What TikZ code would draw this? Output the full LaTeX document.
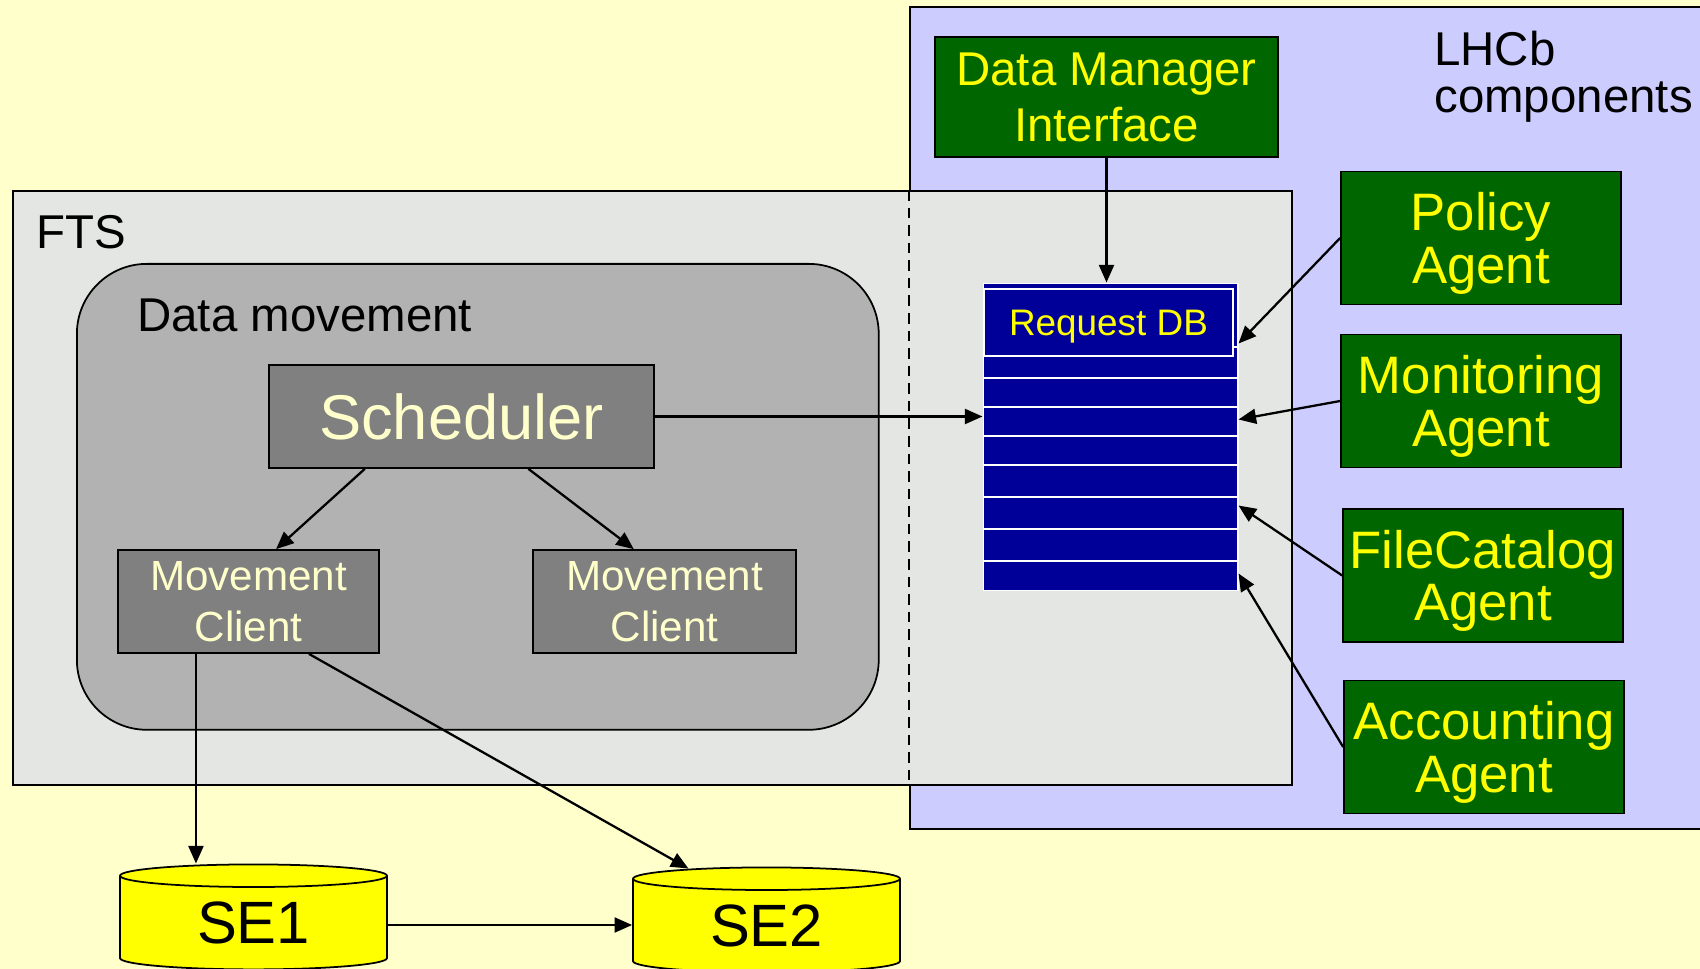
\documentclass[tikz,border=0pt]{standalone}
\usepackage{fontspec}
\setmainfont{Liberation Sans}
\usepackage{xcolor}
\usepackage{tikz}
\usetikzlibrary{arrows.meta,calc,shapes.geometric}

\definecolor{bgyellow}{HTML}{FFFFCC}
\definecolor{lhcbblue}{HTML}{CCCCFF}
\definecolor{ftsgray}{HTML}{E4E6E4}
\definecolor{movegray}{HTML}{B2B2B2}
\definecolor{boxgray}{HTML}{808080}
\definecolor{agentgreen}{HTML}{006600}
\definecolor{dbblue}{HTML}{000099}
\definecolor{seyellow}{HTML}{FFFF00}

\begin{document}
\begin{tikzpicture}
      [ x=0.02cm, y=-0.02cm,
        area/.style={draw, line width=1pt, inner sep=0pt, anchor=north west},
        boxtitle/.style={anchor=west, inner sep=0pt, align=left, font=\fontsize{27}{27}\selectfont},
        grey box/.style={draw, line width=1pt, fill=boxgray, text=bgyellow, align=center, inner sep=0pt},
        agent/.style={draw, line width=1pt, fill=agentgreen, text=seyellow, align=center, inner sep=0pt,
                      text depth=0pt, minimum width=5.6cm, minimum height=2.66cm,
                      font=\fontsize{30}{30}\selectfont},
        se/.style={cylinder, shape border rotate=90, draw, line width=1pt, fill=seyellow, aspect=0.2,
                   text depth=0pt, minimum width=5.34cm, minimum height=2.1cm, inner sep=0pt,
                   font=\fontsize{34}{34}\selectfont},
        flow/.style={-{Triangle[length=10pt,width=8.5pt]}, line width=1.3pt}
      ]
      \useasboundingbox (0,0) rectangle (1700,969);
      \fill[bgyellow] (0,0) rectangle (1700,969);

      % the two frames
      \node[area, fill=lhcbblue, minimum width=15.96cm, minimum height=16.44cm] (lhcb) at (909,6)   {};
      \node[area, fill=ftsgray,  minimum width=25.58cm, minimum height=11.88cm] (fts)  at (12,190)  {};
      \draw[line width=1pt, dash pattern=on 6pt off 4pt]
            (lhcb.north west |- fts.north) -- (lhcb.north west |- fts.south);
      \node[area, fill=movegray, rounded corners=1.4cm,
            minimum width=16.04cm, minimum height=9.32cm]                        (move) at (76,263)  {};

      \node[boxtitle]                                     (ftstitle)  at (36,232)  {FTS};
      \node[boxtitle]                                     (movetitle) at (137,315) {Data movement};
      \node[boxtitle, font=\fontsize{27}{26.5}\selectfont] (lhcbtitle) at (1434,77) {LHCb\\components};

      % data movement
      \node[grey box, minimum width=7.7cm, minimum height=2.06cm,
            font=\fontsize{36}{36}\selectfont]            (sched) at (461.5,416.5) {Scheduler};
      \node[grey box, minimum width=5.22cm, minimum height=2.06cm,
            font=\fontsize{24}{29}\selectfont]            (mc1)   at (248.5,601.5) {Movement\\Client};
      \node[grey box, minimum width=5.26cm, minimum height=2.06cm,
            font=\fontsize{24}{29}\selectfont]            (mc2)   at (664.5,601.5) {Movement\\Client};

      % storage elements
      \node[se] (se1) at (253.5,923)   {SE1};
      \node[se] (se2) at (766.5,926) {SE2};

      % request database
      \node[draw=white, line width=0.6pt, fill=dbblue, inner sep=0pt,
            minimum width=5.1cm, minimum height=6.16cm]   (db)    at (1110.5,437) {};
      \foreach \y in {347,378,407,436,465,497,529,561}
        \draw[white, line width=0.8pt] (db.west |- 0,\y) -- (db.east |- 0,\y);
      \node[draw=white, line width=0.8pt, fill=dbblue, text=seyellow, inner sep=0pt, text depth=0pt,
            minimum width=4.98cm, minimum height=1.34cm,
            font=\fontsize{21}{21}\selectfont]            (reqdb) at (1108.5,322.5) {Request DB};

      % LHCb components
      \node[agent, minimum width=6.86cm, minimum height=2.4cm,
            font=\fontsize{27}{32}\selectfont]            (dmi)     at (1106.5,97)  {Data Manager\\Interface};
      \node[agent]                                        (policy)  at (1481,238)   {Policy\\Agent};
      \node[agent]                                        (monitor) at (1481,401)   {Monitoring\\Agent};
      \node[agent]                                        (catalog) at (1483,575.5) {FileCatalog\\Agent};
      \node[agent]                                        (account) at (1484,747)   {Accounting\\Agent};

      % connectors
      \coordinate (mcout) at ($(mc1.south west)!0.3!(mc1.south east)$);
      \draw[flow] ($(sched.south west)!0.25!(sched.south east)$)  -- ($(mc1.north west)!0.605!(mc1.north east)$);
      \draw[flow] ($(sched.south west)!0.673!(sched.south east)$) -- ($(mc2.north west)!0.384!(mc2.north east)$);
      \draw[flow] (sched.east) -- (sched.east -| db.west);
      \draw[flow] (dmi.south)  -- (dmi.south |- db.north);
      \draw[flow] (policy.west)  -- ($(db.north east)+(0,61)$);
      \draw[flow] (monitor.west) -- ($(db.north east)+(0,137)$);
      \draw[flow] (catalog.west) -- ($(db.north east)+(0,223)$);
      \draw[flow] (account.west) -- ($(db.north east)+(0,291)$);
      \draw[flow] (mcout) -- (mcout |- se1.north);
      \draw[flow] ($(mc1.south west)!0.73!(mc1.south east)$) -- ($(se2.north)+(-78,2)$);
      \draw[flow] ($(se1.east)+(0,2)$) -- ($(se1.east -| se2.west)+(0,2)$);
\end{tikzpicture}
\end{document}
